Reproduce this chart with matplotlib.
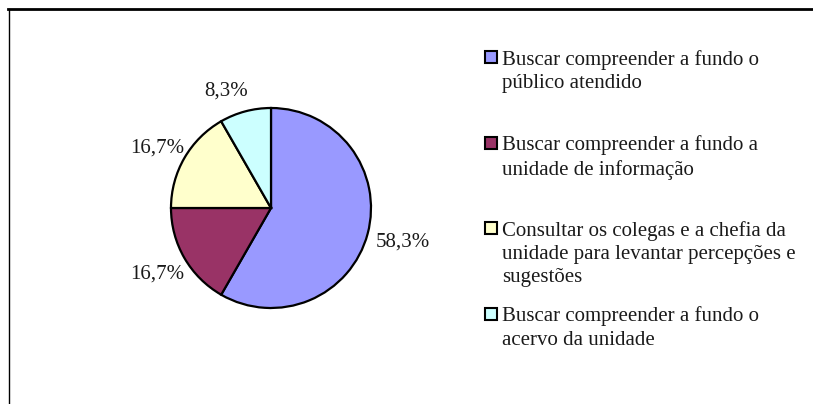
import matplotlib.pyplot as plt
from matplotlib.patches import Rectangle
from matplotlib.lines import Line2D


labels = [
    'Buscar compreender a fundo o\npúblico atendido',
    'Buscar compreender a fundo a\nunidade de informação',
    'Consultar os colegas e a chefia da\nunidade para levantar percepções e\nsugestões',
    'Buscar compreender a fundo o\nacervo da unidade',
]
shares = [58.3, 16.7, 16.7, 8.3]
colors = ['#9999FF', '#993366', '#FFFFCC', '#CCFFFF']

W, H = 813, 404
plt.rcParams['font.family'] = ['Liberation Serif', 'DejaVu Serif']

fig = plt.figure(figsize=(W / 100, H / 100), dpi=100)

# pie: centre and radius in pixels, axes limits at +-1.25
cx, cy, r = 271, 208, 100
half = 1.25 * r
ax = fig.add_axes([(cx - half) / W, (H - cy - half) / H, 2 * half / W, 2 * half / H])
wedges, _, pct = ax.pie(
    shares, colors=colors, startangle=90, counterclock=False,
    autopct=lambda p: f'{p:.1f}%'.replace('.', ','), pctdistance=1.32,
    wedgeprops=dict(edgecolor='black', linewidth=1.6),
    textprops=dict(fontsize=15, color='#1a1a1a'),
)
ax.set_xlim(-1.25, 1.25)
ax.set_ylim(-1.25, 1.25)

# small nudges so the outer labels sit where the original put them
for t, (dx, dy) in zip(pct, [(0.04, 0.0), (0.0, 0.0), (0.0, -0.06), (-0.11, -0.11)]):
    x, y = t.get_position()
    t.set_position((x + dx, y + dy))

# legend drawn by hand so entries are evenly spaced like the original
x_box, x_txt = 485, 502
y0, step, box = 51, 85.5, 12
for i, (lab, col) in enumerate(zip(labels, colors)):
    yt = y0 + i * step
    fig.add_artist(Rectangle((x_box / W, 1 - (yt + box) / H), box / W, box / H,
                             facecolor=col, edgecolor='black', linewidth=1.5,
                             transform=fig.transFigure))
    fig.text(x_txt / W, 1 - (yt - 1) / H, lab, fontsize=15, color='#1a1a1a',
             va='top', ha='left', linespacing=1.3)

# chart frame (only top and left edges visible)
fig.add_artist(Line2D([8.5 / W, 8.5 / W], [0, 1 - 9 / H], color='black',
                      linewidth=1, transform=fig.transFigure))
fig.add_artist(Line2D([8 / W, 1], [1 - 9 / H, 1 - 9 / H], color='black',
                      linewidth=2, transform=fig.transFigure))

fig.savefig('out.png', dpi=100)
